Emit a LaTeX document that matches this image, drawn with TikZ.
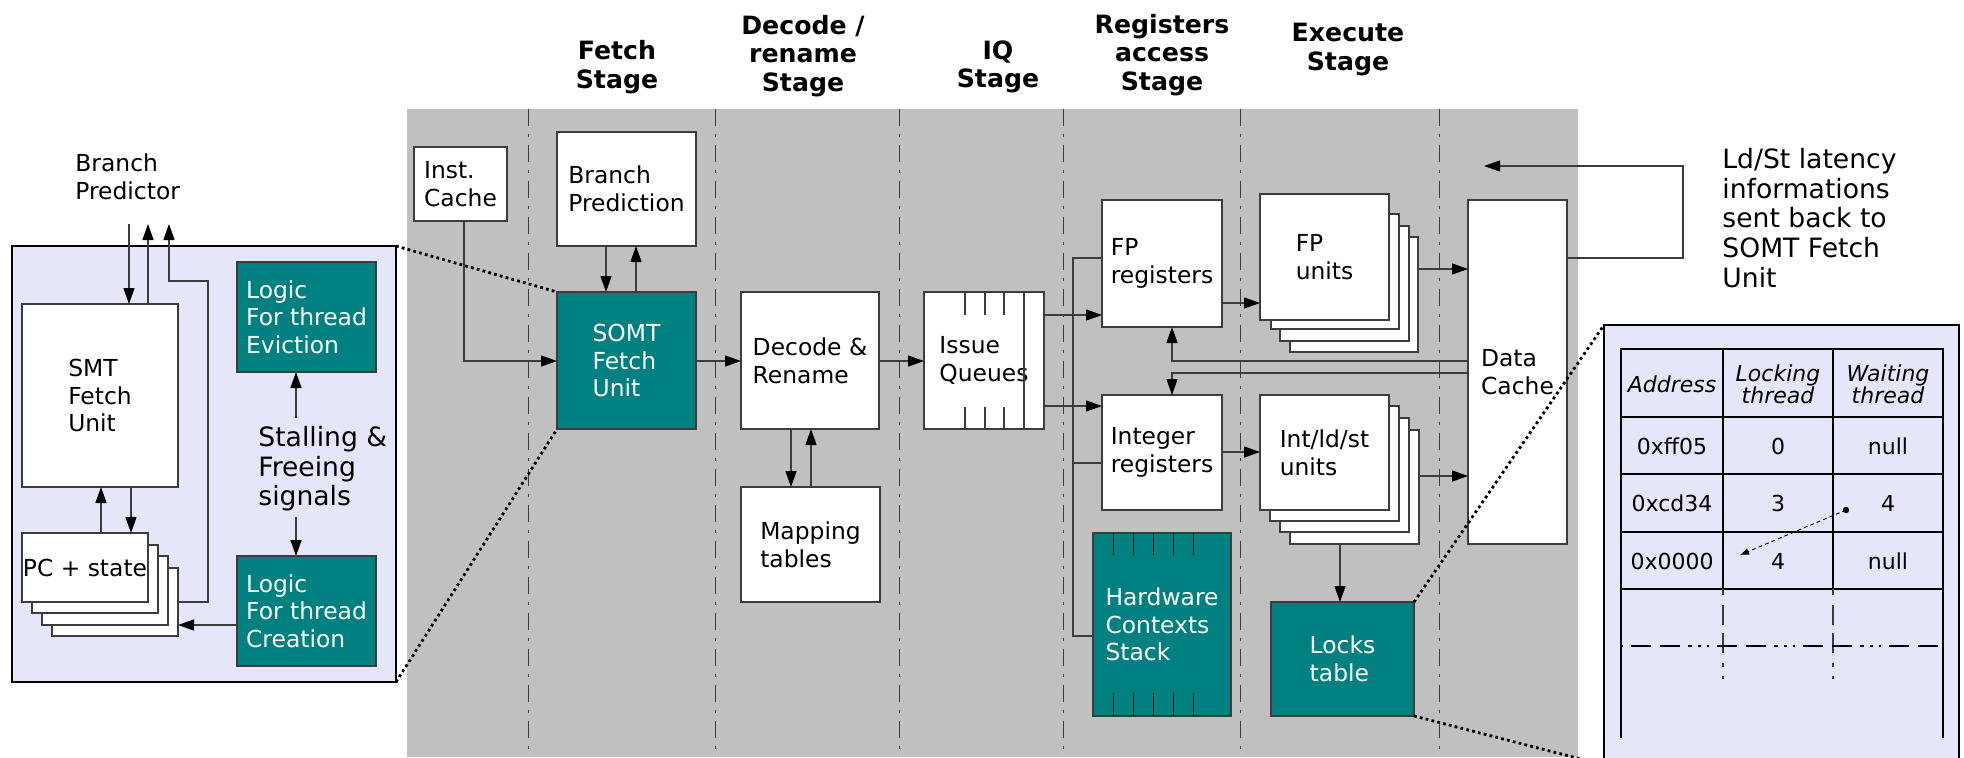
\documentclass[tikz,border=0pt]{standalone}
\usepackage{fontspec}
\setmainfont{DejaVu Sans}
\usetikzlibrary{arrows.meta,fit}

\definecolor{stagegray}{RGB}{192,192,192}
\definecolor{unitteal}{RGB}{0,128,128}
\definecolor{panelfill}{RGB}{230,230,250}
\definecolor{edge}{RGB}{60,60,60}

\newcommand{\fntlabel}{\fontsize{11.7}{13.8}\selectfont}
\newcommand{\fnthead}{\fontsize{12.6}{14.3}\selectfont\bfseries}
\newcommand{\fntnote}{\fontsize{13.3}{14.8}\selectfont}
\newcommand{\fnttab}{\fontsize{11}{11}\selectfont}

\tikzset{
  box/.style={draw=edge, line width=0.6pt, fill=white, inner sep=0pt, outer sep=0pt},
  tealbox/.style={box, fill=unitteal},
  plate/.style={draw=edge, line width=0.6pt, fill=white, inner sep=0pt, outer sep=0pt},
  inbox/.style={font=\fntlabel, align=left, inner sep=0pt},
  inteal/.style={inbox, text=white},
  conn/.style={draw=edge, line width=0.6pt},
  arr/.style={conn, -{Triangle[length=8pt,width=5.5pt,color=black]}},
  stageline/.style={draw=edge, line width=0.5pt, dash pattern=on 8.5pt off 4pt on 1.5pt off 4pt},
  zoomline/.style={draw=black, line width=1.4pt, dash pattern=on 1.4pt off 1.6pt},
  head/.style={font=\fnthead, align=center, inner sep=0pt},
  note/.style={font=\fntlabel, align=left, inner sep=0pt, anchor=west},
  bignote/.style={font=\fntnote, align=left, inner sep=0pt, anchor=west},
  cell/.style={font=\fnttab, align=center, inner sep=0pt},
  slot/.style={draw=black, line width=0.5pt},
  tline/.style={draw=black, line width=0.6pt},
  tcont/.style={draw=edge, line width=0.6pt, dash pattern=on 3pt off 5pt on 10pt off 4pt on 10pt off 5pt on 2pt off 4.5pt on 1.5pt off 20pt},
  trow/.style={draw=black, line width=0.6pt, dash pattern=on 1pt off 4pt on 10pt off 4.5pt on 10pt off 4pt on 2pt off 3pt on 1.5pt off 3pt},
}

\begin{document}
\begin{tikzpicture}[x=0.5pt,y=-0.5pt]
\clip (0,0) rectangle (1964,757);
\fill[white] (0,0) rectangle (1964,757);

% pipeline backdrop and stage separators
\fill[stagegray] (407,109) rectangle (1578,757);
\foreach \sx in {528,715,899,1063,1240,1439}
  \draw[stageline] (\sx,109) -- (\sx,757);

% stage titles
\node[head] (hfetch) at (617,67) {Fetch\\Stage};
\node[head] (hdecode) at (803,56) {Decode /\\rename\\Stage};
\node[head] (hiq) at (998,67) {IQ\\Stage};
\node[head] (hreg) at (1162,55) {Registers\\access\\Stage};
\node[head] (hexec) at (1348,49.5) {Execute\\Stage};

% ---------- detail of the SOMT fetch unit ----------
\node[box, fill=panelfill, draw=black, fit={(12,246) (396,682)}] (panel) {};
\node[note] (bp) at (75,177) {Branch\\Predictor};
\node[box, fit={(22,304) (178,487)}] (smt) {};
\node[inbox] (smt-t) at (smt) {SMT\\Fetch\\Unit};
\node[plate, fit={(52,568) (178,636)}] (pc3) {};
\node[plate, fit={(42,556) (168,625)}] (pc2) {};
\node[plate, fit={(32,545) (158,613)}] (pc1) {};
\node[box, fit={(22,533) (148,602)}] (pc) {};
\node[inbox] (pc-t) at (pc) {PC + state};
\node[tealbox, fit={(237,262) (376,372)}] (evict) {};
\node[inteal] (evict-t) at (evict) {Logic\\For thread\\Eviction};
\node[tealbox, fit={(237,556) (376,666)}] (create) {};
\node[inteal] (create-t) at (create) {Logic\\For thread\\Creation};
\node[bignote] (stall) at (258,469) {Stalling \&\\Freeing\\signals};

\coordinate (bpin) at (129,224);
\coordinate (bpout1) at (148,224);
\coordinate (bpout2) at (169,224);
\coordinate (stallup) at (296,418);
\coordinate (stalldown) at (296,517);
\draw[arr] (bpin) -- (bpin |- smt.north);
\draw[arr] (bpout1 |- smt.north) -- (bpout1);
\draw[arr] (pc3.east |- 0,602) -| (208,281) -| (bpout2);
\draw[arr] (101,0 |- pc.north) -- (101,0 |- smt.south);
\draw[arr] (131,0 |- smt.south) -- (131,0 |- pc.north);
\draw[arr] (create.west |- 0,625) -- (pc3.east |- 0,625);
\draw[arr] (stallup) -- (stallup |- evict.south);
\draw[arr] (stalldown) -- (stalldown |- create.north);

% ---------- fetch and decode ----------
\node[box, fit={(414,147) (507,221)}] (icache) {};
\node[inbox] (icache-t) at (icache) {Inst.\\Cache};
\node[box, fit={(557,132) (696,246)}] (bpred) {};
\node[inbox] (bpred-t) at (bpred) {Branch\\Prediction};
\node[tealbox, fit={(557,292) (696,429)}] (somt) {};
\node[inteal] (somt-t) at (somt) {SOMT\\Fetch\\Unit};
\node[box, fit={(741,292) (879,429)}] (decode) {};
\node[inbox] (decode-t) at (decode) {Decode \&\\Rename};
\node[box, fit={(741,487) (880,602)}] (maptab) {};
\node[inbox] (maptab-t) at (maptab) {Mapping\\tables};
\node[box, fit={(924,292) (1044,429)}] (iq) {};
\node[inbox] (iq-t) at (iq) {Issue\\Queues};
\foreach \sx in {965,985,1004} {
  \draw[conn] (\sx,292) -- (\sx,315);
  \draw[conn] (\sx,407) -- (\sx,429);
}
\draw[conn] (1024,292) -- (1024,429);

\draw[arr] (464,0 |- icache.south) |- (somt.west |- 0,361);
\draw[arr] (somt.east |- 0,361) -- (decode.west |- 0,361);
\draw[arr] (decode.east |- 0,361) -- (iq.west |- 0,361);
\draw[arr] (606,0 |- bpred.south) -- (606,0 |- somt.north);
\draw[arr] (636,0 |- somt.north) -- (636,0 |- bpred.south);
\draw[arr] (791,0 |- decode.south) -- (791,0 |- maptab.north);
\draw[arr] (811,0 |- maptab.north) -- (811,0 |- decode.south);

% ---------- register access ----------
\node[box, fit={(1102,200) (1222,327)}] (fpreg) {};
\node[inbox] (fpreg-t) at (fpreg) {FP\\registers};
\node[box, fit={(1102,395) (1222,510)}] (intreg) {};
\node[inbox] (intreg-t) at (intreg) {Integer\\registers};
\node[tealbox, fit={(1093,533) (1231,716)}] (hwctx) {};
\node[inteal] (hwctx-t) at (hwctx) {Hardware\\Contexts\\Stack};
\foreach \sx in {1113,1133,1153,1173,1193} {
  \draw[slot] (\sx,533) -- (\sx,555);
  \draw[slot] (\sx,693) -- (\sx,716);
}
\draw[conn] (hwctx.west |- 0,636) -| (1073,258) -- (fpreg.west |- 0,258);
\draw[conn] (1073,463) -- (intreg.west |- 0,463);
\draw[arr] (iq.east |- 0,315) -- (fpreg.west |- 0,315);
\draw[arr] (iq.east |- 0,406) -- (intreg.west |- 0,406);

% ---------- execute ----------
\node[plate, fit={(1290,237) (1418,352)}] (fpu3) {};
\node[plate, fit={(1280,226) (1409,341)}] (fpu2) {};
\node[plate, fit={(1271,214) (1399,329)}] (fpu1) {};
\node[box, fit={(1260,194) (1389,320)}] (fpu0) {};
\node[inbox] (fpu0-t) at (fpu0) {FP\\units};
\node[plate, fit={(1290,430) (1419,544)}] (intu3) {};
\node[plate, fit={(1280,418) (1409,532)}] (intu2) {};
\node[plate, fit={(1270,406) (1399,521)}] (intu1) {};
\node[box, fit={(1260,395) (1389,510)}] (intu0) {};
\node[inbox] (intu0-t) at (intu0) {Int/ld/st\\units};
\node[box, fit={(1468,200) (1567,544)}] (dcache) {};
\node[inbox] (dcache-t) at (dcache) {Data\\Cache};
\node[tealbox, fit={(1271,602) (1414,716)}] (locks) {};
\node[inteal] (locks-t) at (locks) {Locks\\table};

\draw[arr] (fpreg.east |- 0,303) -- (fpu0.west |- 0,303);
\draw[arr] (intreg.east |- 0,452) -- (intu0.west |- 0,452);
\draw[arr] (fpu3.east |- 0,269) -- (dcache.west |- 0,269);
\draw[arr] (intu3.east |- 0,476) -- (dcache.west |- 0,476);
\draw[arr] (1340,0 |- intu3.south) -- (1340,0 |- locks.north);
\draw[arr] (dcache.west |- 0,361) -| (1172,0 |- fpreg.south);
\draw[arr] (dcache.west |- 0,373) -| (1172,0 |- intreg.north);
\coordinate (fbtip) at (1484,166);
\draw[arr] (dcache.east |- 0,258) -| (1683,166) -- (fbtip);

\node[bignote] (ldst) at (1722,218) {Ld/St latency\\informations\\sent back to\\SOMT Fetch\\Unit};

% ---------- locks table detail ----------
\node[box, fill=panelfill, draw=black, fit={(1604,325) (1959,765)}] (tpanel) {};
\draw[tline] (1621,738) -- (1621,349) -- (1943,349) -- (1943,738);
\foreach \ty in {417,474,532,589}
  \draw[tline] (1621,\ty) -- (1943,\ty);
\draw[tline] (1723,349) -- (1723,589);
\draw[tline] (1833,349) -- (1833,589);
\draw[tcont] (1723,589) -- (1723,682);
\draw[tcont] (1833,589) -- (1833,682);
\draw[trow] (1621,646) -- (1943,646);

\node[cell] (haddr) at (1672,384) {\itshape Address};
\node[cell] (hlock) at (1778,384) {\itshape Locking\\\itshape thread};
\node[cell] (hwait) at (1888,384) {\itshape Waiting\\\itshape thread};
\node[cell] (a1) at (1672,446) {0xff05};
\node[cell] (l1) at (1778,446) {0};
\node[cell] (w1) at (1888,446) {null};
\node[cell] (a2) at (1672,503) {0xcd34};
\node[cell] (l2) at (1778,503) {3};
\node[cell] (w2) at (1888,503) {4};
\node[cell] (a3) at (1672,561) {0x0000};
\node[cell] (l3) at (1778,561) {4};
\node[cell] (w3) at (1888,561) {null};

\coordinate (waitdot) at (1846,510);
\coordinate (lockend) at (1740,555);
\fill[black] (waitdot) circle (3.2);
\draw[draw=black, line width=0.45pt, dash pattern=on 2pt off 1.5pt, -{Latex[length=4.5pt,width=3.5pt]}] (waitdot) -- (lockend);

% ---------- zoom indicators ----------
\draw[zoomline] (panel.north east) -- (somt.north west);
\draw[zoomline] (panel.south east) -- (somt.south west);
\draw[zoomline] (locks.north east) -- (tpanel.north west);
\draw[zoomline] (locks.south east) -- (tpanel.south west);
\end{tikzpicture}
\end{document}
